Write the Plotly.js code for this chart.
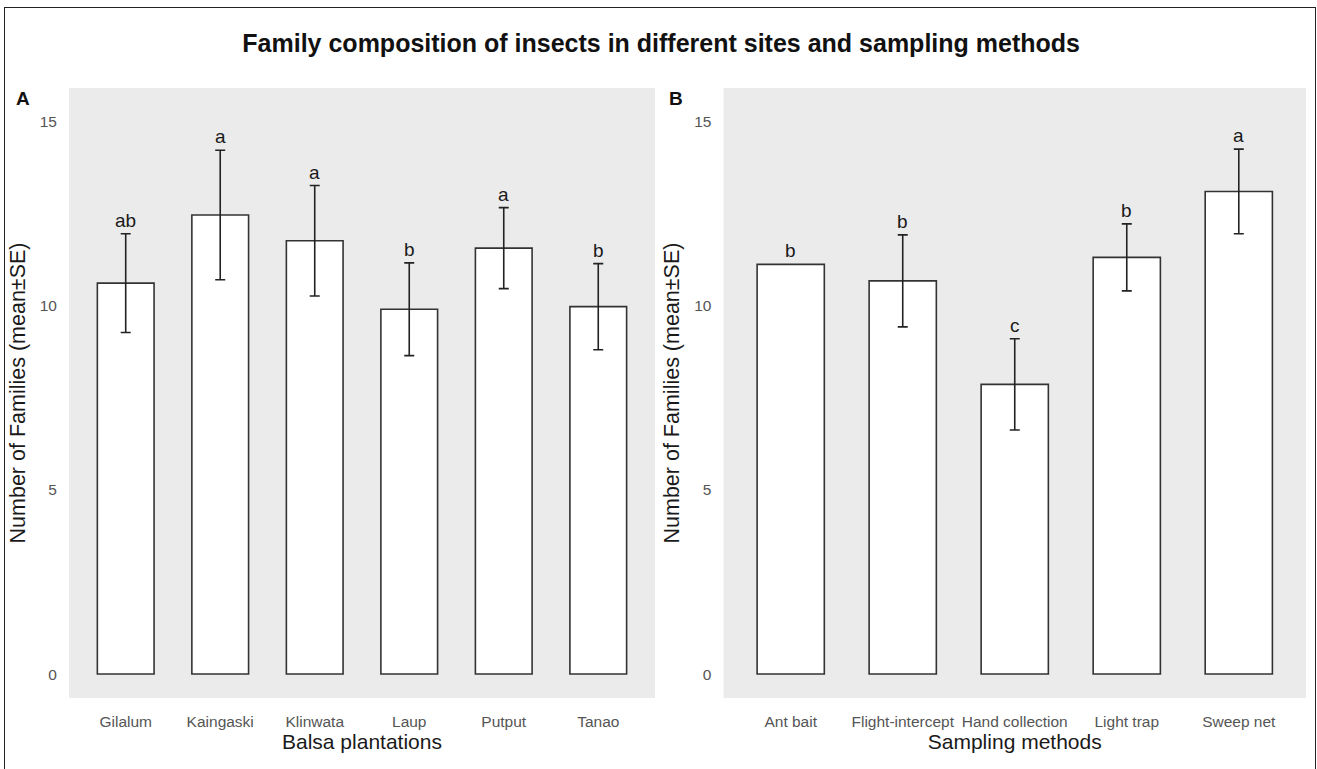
<!DOCTYPE html>
<html>
<head>
<meta charset="utf-8">
<script src="https://cdn.plot.ly/plotly-3.0.1.min.js"></script>
<style>
  html, body { margin: 0; padding: 0; background: #ffffff; }
  #wrap { position: relative; width: 1317px; height: 769px; overflow: hidden; }
  #chart { position: absolute; left: 0; top: 0; width: 1317px; height: 769px; }
  #frame { position: absolute; left: 4px; top: 7px; width: 1310px; height: 780px;
           border-left: 1.5px solid #222; border-top: 1.5px solid #222; border-right: 1.5px solid #222;
           pointer-events: none; }
</style>
</head>
<body>
<div id="wrap">
  <div id="chart"></div>
  <div id="frame"></div>
</div>
<script>
// Panel A: balsa plantations
const sites = ["Gilalum", "Kaingaski", "Klinwata", "Laup", "Putput", "Tanao"];
const siteMeans = [10.62, 12.47, 11.77, 9.91, 11.57, 9.98];
const siteSE = [1.34, 1.76, 1.50, 1.26, 1.10, 1.17];
const siteLetters = ["ab", "a", "a", "b", "a", "b"];

// Panel B: sampling methods (Ant bait shows no error bar)
const methods = ["Ant bait", "Flight-intercept", "Hand collection", "Light trap", "Sweep net"];
const methodMeans = [11.13, 10.68, 7.87, 11.32, 13.11];
const methodSE = [NaN, 1.25, 1.24, 0.91, 1.15];
const methodLetters = ["b", "b", "c", "b", "a"];

const yTicks = [0, 5, 10, 15];

const FONT = '"Liberation Sans", Arial, sans-serif';

function barTrace(x, y, se, xa, ya) {
  return {
    type: 'bar', x: x, y: y, xaxis: xa, yaxis: ya, width: 0.6,
    marker: { color: '#ffffff', line: { color: '#333333', width: 1.6 } },
    error_y: { type: 'data', array: se, visible: true, color: '#222222', thickness: 1.6, width: 5 },
    hoverinfo: 'x+y', showlegend: false
  };
}

const data = [
  barTrace(sites, siteMeans, siteSE, 'x', 'y'),
  barTrace(methods, methodMeans, methodSE, 'x2', 'y2')
];

const letterFont = { family: FONT, size: 19, color: '#1a1a1a' };
const letterAnn = [];
sites.forEach((s, i) => letterAnn.push({
  x: s, y: siteMeans[i] + (siteSE[i] || 0), xref: 'x', yref: 'y', text: siteLetters[i],
  showarrow: false, yanchor: 'bottom', yshift: 1, font: letterFont
}));
methods.forEach((s, i) => letterAnn.push({
  x: s, y: methodMeans[i] + (methodSE[i] || 0), xref: 'x2', yref: 'y2', text: methodLetters[i],
  showarrow: false, yanchor: 'bottom', yshift: 1, font: letterFont
}));

const tickFont = { family: FONT, size: 15.5, color: '#555555' };
const axTitleFontX = { family: FONT, size: 21, color: '#1a1a1a' };
const axTitleFontY = { family: FONT, size: 21.5, color: '#1a1a1a' };

function xAxis(domain, titleText, n) {
  return {
    domain: domain, type: 'category', range: [-0.6, n - 0.4],
    showgrid: false, zeroline: false, showline: false, tickangle: 0,
    ticks: 'outside', ticklen: 9, tickcolor: 'rgba(0,0,0,0)',
    tickfont: tickFont, fixedrange: true,
    title: { text: titleText, font: axTitleFontX, standoff: 3 }
  };
}
function yAxis(anchor) {
  return {
    anchor: anchor, range: [-0.65, 15.92], tickvals: yTicks, ticktext: yTicks.map(String),
    showgrid: false, zeroline: false, showline: false,
    ticks: 'outside', ticklen: 8, tickcolor: 'rgba(0,0,0,0)',
    tickfont: tickFont, fixedrange: true,
    title: { text: 'Number of Families (mean±SE)', font: axTitleFontY, standoff: 8 }
  };
}

const xa = xAxis([0, 0.4737], 'Balsa plantations', sites.length);
const xb = xAxis([0.5291, 1.0], 'Sampling methods', methods.length);
xb.anchor = 'y2';
const ya = yAxis('x');
const yb = yAxis('x2');

const layout = {
  width: 1317, height: 769,
  margin: { l: 69, r: 11, t: 88, b: 71, pad: 0 },
  paper_bgcolor: '#ffffff', plot_bgcolor: '#ebebeb',
  title: {
    text: 'Family composition of insects in different sites and sampling methods',
    font: { family: FONT, size: 25, color: '#111111', weight: 'bold' },
    x: 0.502, xref: 'container', xanchor: 'center',
    y: 1 - 43 / 769, yref: 'container', yanchor: 'middle'
  },
  xaxis: xa, yaxis: ya, xaxis2: xb, yaxis2: yb,
  annotations: letterAnn.concat([
    { text: '<b>A</b>', xref: 'paper', yref: 'paper', x: (23 - 69) / 1237, y: (698 - 98) / 610,
      showarrow: false, xanchor: 'center', yanchor: 'middle',
      font: { family: FONT, size: 19, color: '#111111' } },
    { text: '<b>B</b>', xref: 'paper', yref: 'paper', x: (676 - 69) / 1237, y: (698 - 98) / 610,
      showarrow: false, xanchor: 'center', yanchor: 'middle',
      font: { family: FONT, size: 19, color: '#111111' } }
  ])
};

Plotly.newPlot('chart', data, layout, { displayModeBar: false, staticPlot: true });
</script>
</body>
</html>
